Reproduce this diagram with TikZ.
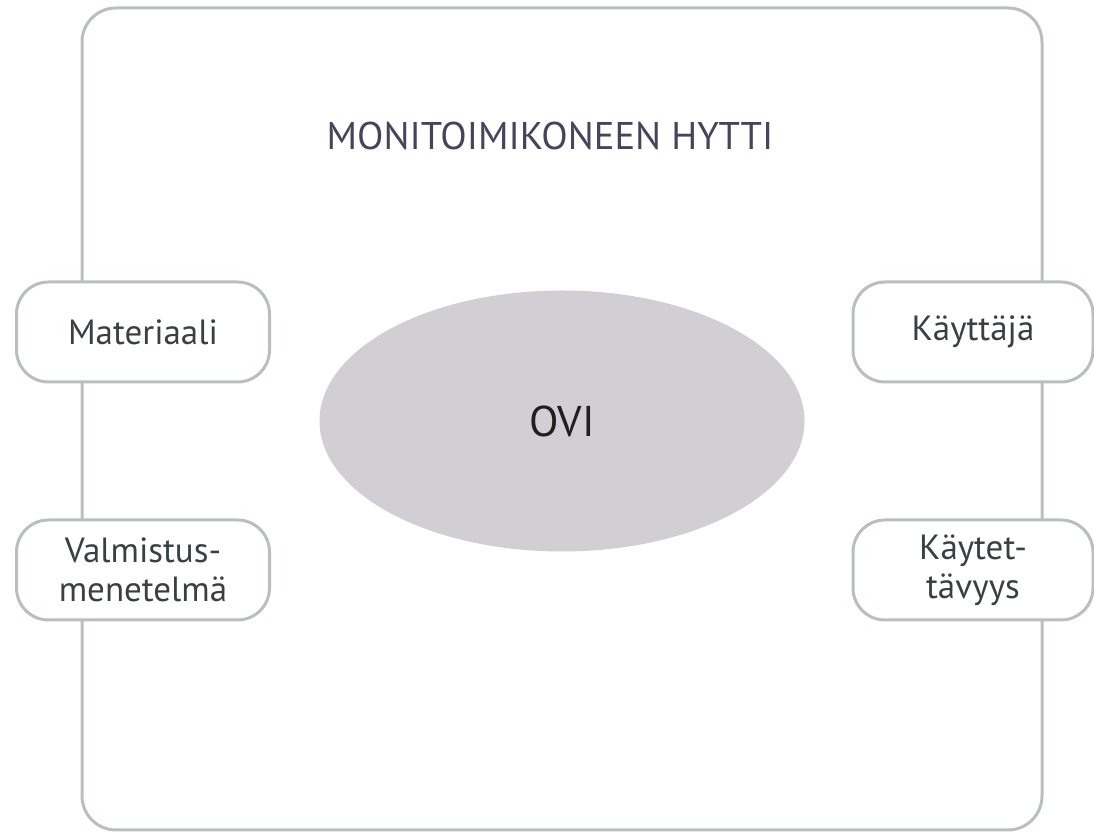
\documentclass[tikz,border=0pt]{standalone}
\usepackage{fontspec}
\setmainfont{PT Sans}
\usetikzlibrary{shapes.geometric}
\definecolor{framegray}{HTML}{B8BFC1}
\definecolor{titleink}{HTML}{47435C}
\definecolor{boxink}{HTML}{3A3F44}
\definecolor{ovifill}{HTML}{D1CFD3}
\tikzset{
  frame/.style={draw=framegray,line width=1.5pt,rounded corners=17pt},
  sidebox/.style={draw=framegray,line width=1.5pt,fill=white,rounded corners=16pt,
    minimum height=50pt,align=center,text=boxink,
    font=\fontsize{17.5}{19.5}\selectfont},
}
\begin{document}
\begin{tikzpicture}[x=0.5pt,y=-0.5pt,line join=round,line cap=round]
\useasboundingbox (0,0) rectangle (1094,833);
\draw[frame] (82,8) rectangle (1042,830);
\node[text=titleink,font=\fontsize{19.3}{22}\selectfont] (title) at (550,136) {MONITOIMIKONEEN HYTTI};
\node[ellipse,fill=ovifill,minimum width=242.5pt,minimum height=130.5pt,
  font=\fontsize{21.5}{24}\selectfont,text=black!88] (ovi) at (562,421) {OVI};
\node[sidebox,minimum width=126.5pt] (materiaali) at (143,332) {Materiaali};
\node[sidebox,minimum width=126.5pt] (valmistus) at (143,570) {Valmistus-\\menetelmä};
\node[sidebox,minimum width=120pt] (kayttaja) at (973,332) {Käyttäjä};
\node[sidebox,minimum width=120pt] (kaytettavyys) at (973,570) {Käytet-\\tävyys};
\end{tikzpicture}
\end{document}
